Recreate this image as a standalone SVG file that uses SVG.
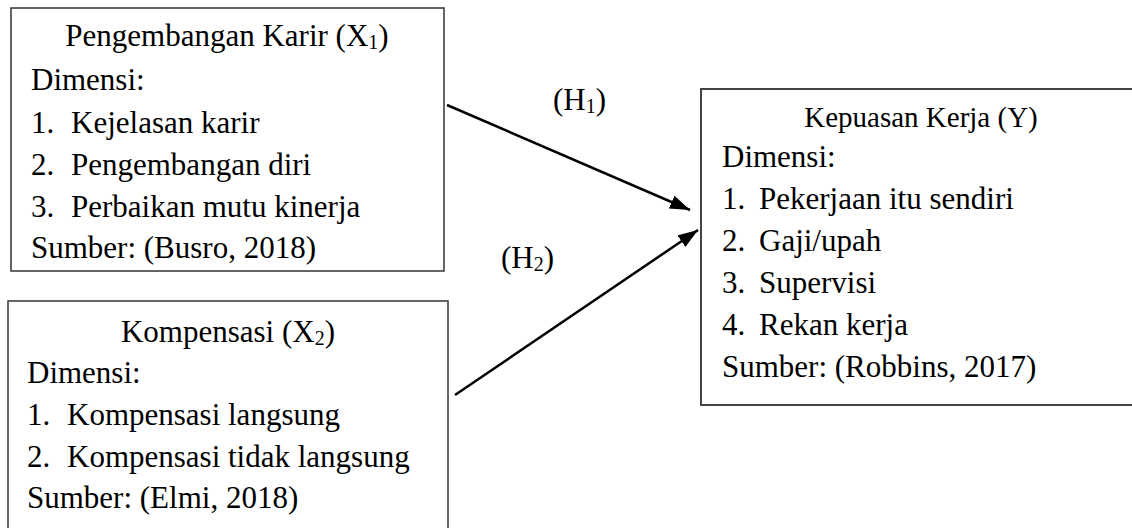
<svg xmlns="http://www.w3.org/2000/svg" width="1132" height="528" viewBox="0 0 1132 528">
<style>
.box{fill:#fff;stroke:#333;stroke-width:1.5}
.t{font-family:"Liberation Serif","Times New Roman",serif;font-size:31px;fill:#000}
.tt{font-family:"Liberation Serif","Times New Roman",serif;font-size:29px;fill:#000}
.sub{font-size:20px}
.c{text-anchor:middle}
.arr{stroke:#000;stroke-width:2.5;fill:none}
</style>
<defs>
<marker id="ah" markerUnits="userSpaceOnUse" markerWidth="22" markerHeight="16" refX="20" refY="7" orient="auto">
<path d="M0,0 L20,7 L0,14 Z" fill="#000"/>
</marker>
</defs>
<rect width="1132" height="528" fill="#fff"/>
<g id="x1">
<rect class="box" x="11" y="8" width="433" height="263"/>
<text class="t c" x="227" y="46">Pengembangan Karir (X<tspan class="sub" dy="3">1</tspan><tspan dy="-3">)</tspan></text>
<text class="t" x="31" y="90">Dimensi:</text>
<text class="t" x="31" y="133">1.</text><text class="t" x="71" y="133">Kejelasan karir</text>
<text class="t" x="31" y="175">2.</text><text class="t" x="71" y="175">Pengembangan diri</text>
<text class="t" x="31" y="217">3.</text><text class="t" x="71" y="217">Perbaikan mutu kinerja</text>
<text class="t" x="31" y="258">Sumber: (Busro, 2018)</text>
</g>
<g id="x2">
<rect class="box" x="8" y="301" width="440" height="240"/>
<text class="t c" x="228" y="342">Kompensasi (X<tspan class="sub" dy="3">2</tspan><tspan dy="-3">)</tspan></text>
<text class="t" x="27" y="383">Dimensi:</text>
<text class="t" x="27" y="425">1.</text><text class="t" x="67" y="425">Kompensasi langsung</text>
<text class="t" x="27" y="467">2.</text><text class="t" x="67" y="467">Kompensasi tidak langsung</text>
<text class="t" x="27" y="508">Sumber: (Elmi, 2018)</text>
</g>
<g id="y">
<rect class="box" x="701" y="89" width="445" height="316" style="stroke:#444;stroke-width:2"/>
<text class="tt c" x="921" y="127">Kepuasan Kerja (Y)</text>
<text class="t" x="722" y="167">Dimensi:</text>
<text class="t" x="722" y="209">1.</text><text class="t" x="759" y="209">Pekerjaan itu sendiri</text>
<text class="t" x="722" y="251">2.</text><text class="t" x="759" y="251">Gaji/upah</text>
<text class="t" x="722" y="293">3.</text><text class="t" x="759" y="293">Supervisi</text>
<text class="t" x="722" y="335">4.</text><text class="t" x="759" y="335">Rekan kerja</text>
<text class="t" x="722" y="377">Sumber: (Robbins, 2017)</text>
</g>
<g id="connectors">
<line class="arr" x1="447" y1="105" x2="690" y2="210" marker-end="url(#ah)"/>
<line class="arr" x1="455" y1="395" x2="698" y2="230" marker-end="url(#ah)"/>
<text class="t" x="553" y="110">(H<tspan class="sub" dy="3">1</tspan><tspan dy="-3">)</tspan></text>
<text class="t" x="501" y="268">(H<tspan class="sub" dy="3">2</tspan><tspan dy="-3">)</tspan></text>
</g>
</svg>
